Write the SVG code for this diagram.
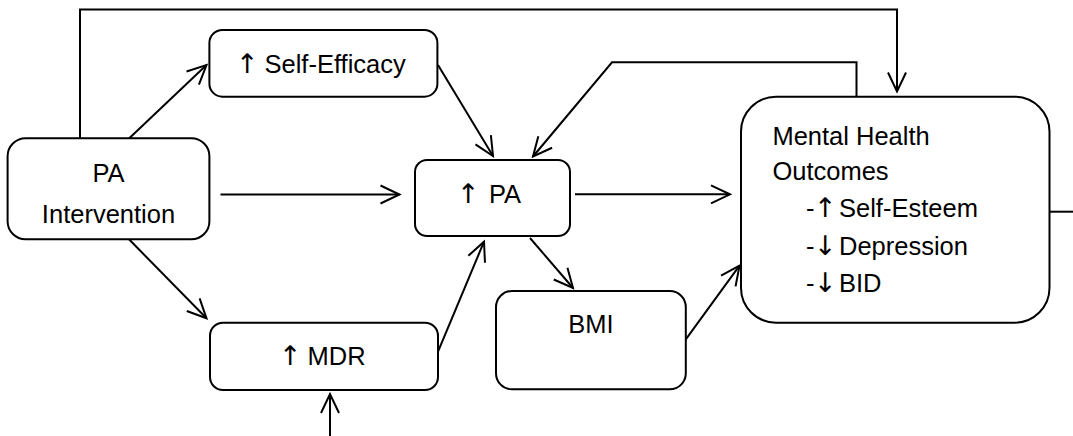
<svg xmlns="http://www.w3.org/2000/svg" width="1073" height="436" viewBox="0 0 1073 436">
<style>
.box{fill:#fff;stroke:#000;stroke-width:2}
.ln{fill:none;stroke:#000;stroke-width:2}
text{font-family:"Liberation Sans",Arial,sans-serif;font-size:25.5px;fill:#000}
.c{text-anchor:middle}
.ar{font-family:"DejaVu Sans",sans-serif;font-size:27px}
</style>
<defs>
<marker id="ah" markerUnits="userSpaceOnUse" orient="auto" refX="0" refY="0" markerWidth="30" markerHeight="30" overflow="visible">
<path d="M-19,-9 L0,0 L-19,9" fill="none" stroke="#000" stroke-width="2"/>
</marker>
</defs>
<rect width="1073" height="436" fill="#fff"/>
<g id="connectors">
<path class="ln" d="M80,138.5 V9.5 H897 V91.5" marker-end="url(#ah)"/>
<path class="ln" d="M856.5,96.7 V62.3 H612 L533,156.5" marker-end="url(#ah)"/>
<line class="ln" x1="129" y1="138.5" x2="206.5" y2="65" marker-end="url(#ah)"/>
<line class="ln" x1="220.5" y1="194.5" x2="399.5" y2="194.5" marker-end="url(#ah)"/>
<line class="ln" x1="129" y1="239.3" x2="206.5" y2="318.3" marker-end="url(#ah)"/>
<line class="ln" x1="438" y1="65" x2="493" y2="156" marker-end="url(#ah)"/>
<line class="ln" x1="438" y1="351.7" x2="484" y2="241.7" marker-end="url(#ah)"/>
<line class="ln" x1="575" y1="194.3" x2="730" y2="194.3" marker-end="url(#ah)"/>
<line class="ln" x1="530" y1="238" x2="573" y2="288" marker-end="url(#ah)"/>
<line class="ln" x1="685.8" y1="339.3" x2="739.5" y2="265.7" marker-end="url(#ah)"/>
<line class="ln" x1="330" y1="436" x2="330" y2="394" marker-end="url(#ah)"/>
<line class="ln" x1="1049.5" y1="211.7" x2="1073" y2="211.7"/>
</g>
<g id="pa-intervention">
<rect class="box" x="7.6" y="138.3" width="201.8" height="101" rx="18" ry="18"/>
<text class="c" x="108.5" y="181.7">PA</text>
<text class="c" x="108.5" y="222.7">Intervention</text>
</g>
<g id="self-efficacy">
<rect class="box" x="209.4" y="30" width="228" height="66.7" rx="13" ry="13"/>
<text y="73"><tspan class="ar" x="236">↑</tspan><tspan x="264.5">Self-Efficacy</tspan></text>
</g>
<g id="pa">
<rect class="box" x="415" y="160" width="155" height="76" rx="12" ry="12"/>
<text y="202.7"><tspan class="ar" x="457">↑</tspan><tspan x="489">PA</tspan></text>
</g>
<g id="mdr">
<rect class="box" x="210" y="322.7" width="228" height="67.3" rx="13" ry="13"/>
<text y="365"><tspan class="ar" x="279">↑</tspan><tspan x="307.6">MDR</tspan></text>
</g>
<g id="bmi">
<rect class="box" x="496" y="291" width="189.8" height="98.3" rx="16" ry="16"/>
<text class="c" x="590.8" y="333.3">BMI</text>
</g>
<g id="mental-health">
<rect class="box" x="741" y="96.7" width="308.5" height="226" rx="35" ry="35"/>
<text x="772.4" y="145">Mental Health</text>
<text x="772.4" y="180">Outcomes</text>
<text y="216.7"><tspan x="806">-</tspan><tspan class="ar" x="814">↑</tspan><tspan x="839">Self-Esteem</tspan></text>
<text y="255"><tspan x="806">-</tspan><tspan class="ar" x="814">↓</tspan><tspan x="839">Depression</tspan></text>
<text y="291.7"><tspan x="806">-</tspan><tspan class="ar" x="814">↓</tspan><tspan x="839">BID</tspan></text>
</g>
</svg>
